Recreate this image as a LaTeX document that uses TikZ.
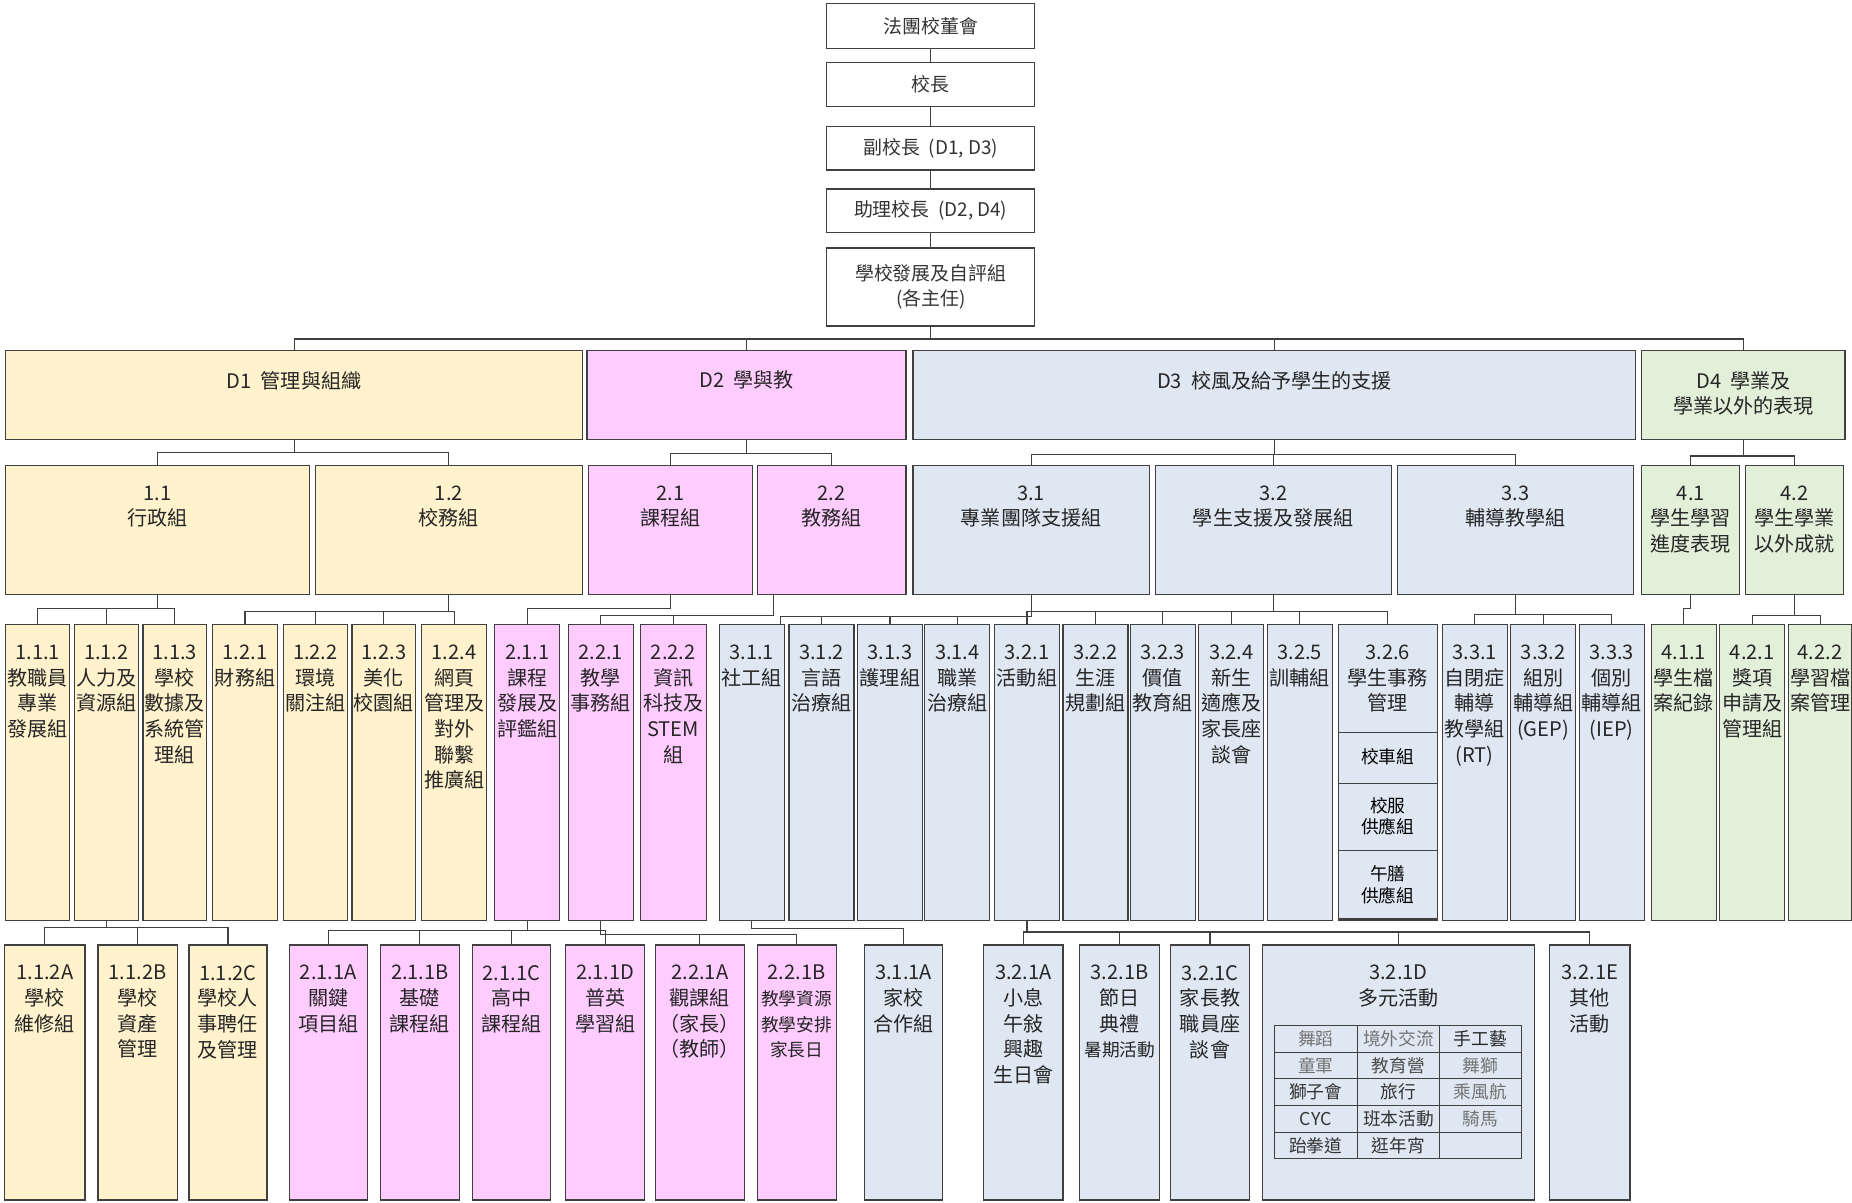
\documentclass[tikz,border=0pt]{standalone}
\usepackage{fontspec}
\setmainfont{Noto Sans CJK TC}
\usepackage{xcolor}
\usepackage{tikz}
\definecolor{dyellow}{HTML}{FFF2CC}
\definecolor{dpink}{HTML}{FFCCFF}
\definecolor{dblue}{HTML}{DEE7F2}
\definecolor{dgreen}{HTML}{E2EFD9}
\newcommand{\smtxt}[1]{{\fontsize{15}{21.7}\selectfont #1}}

\begin{document}
\begin{tikzpicture}[x=1pt, y=-1pt,
    box/.style={draw=black!75, line width=1pt, rectangle, inner sep=0pt, outer sep=0pt, anchor=north west},
    tag/.style={label={[anchor=north, align=center, yshift=-14pt, inner sep=3pt, font=\fontsize{17}{21.7}\selectfont, text=black!85]north:#1}},
    link/.style={draw=black!75, line width=1pt},
    cell/.style={font=\fontsize{15}{18}\selectfont, inner sep=0pt}]
    \useasboundingbox (0,0) rectangle (1568,1018);

    % Top chain
    \foreach \n/\ya/\h/\txt in {board/3/38/法團校董會, head/53/37/校長, vice/107/37/{副校長\ \ (D1, D3)}, asst/160/37/{助理校長\ \ (D2, D4)}, selfeval/210/66/{學校發展及自評組\\(各主任)}} {
        \node[box, minimum width=176pt, minimum height=\h pt, align=center, font=\fontsize{16}{21}\selectfont, text=black!80] (\n) at (700,\ya) {\txt};
    }
    \draw[link] (board) -- (head);
    \draw[link] (head) -- (vice);
    \draw[link] (vice) -- (asst);
    \draw[link] (asst) -- (selfeval);

    % Domains
    \foreach \n/\x/\w/\c/\txt in {d1/5/488/dyellow/{D1\ \ 管理與組織}, d2/497/270/dpink/{D2\ \ 學與教}, d3/773/612/dblue/{D3\ \ 校風及給予學生的支援}, d4/1390/172/dgreen/{D4\ \ 學業及\\學業以外的表現}} {
        \node[box, fill=\c, minimum width=\w pt, minimum height=75pt, tag={\txt}] (\n) at (\x,297) {};
    }
    \coordinate (jtop) at (selfeval.south |- 0,287);
    \foreach \d in {d1,d2,d3,d4} \draw[link] (selfeval.south) -- (jtop) -| (\d.north);

    % Second level
    \foreach \n/\x/\w/\c/\txt in {b11/5/257/dyellow/{1.1\\行政組}, b12/267/226/dyellow/{1.2\\校務組}, b21/498/139/dpink/{2.1\\課程組}, b22/641/126/dpink/{2.2\\教務組}, b31/773/200/dblue/{3.1\\專業團隊支援組}, b32/978/200/dblue/{3.2\\學生支援及發展組}, b33/1183/200/dblue/{3.3\\輔導教學組}, b41/1390/83/dgreen/{4.1\\學生學習\\進度表現}, b42/1478/83/dgreen/{4.2\\學生學業\\以外成就}} {
        \node[box, fill=\c, minimum width=\w pt, minimum height=109pt, tag={\txt}] (\n) at (\x,394) {};
    }
    \coordinate (j1) at (d1.south |- 0,383);
    \coordinate (j2) at (d2.south |- 0,384);
    \coordinate (j3) at (d3.south |- 0,385);
    \coordinate (j4) at (d4.south |- 0,386);
    \foreach \c in {b11,b12} \draw[link] (d1.south) -- (j1) -| (\c.north);
    \foreach \c in {b21,b22} \draw[link] (d2.south) -- (j2) -| (\c.north);
    \foreach \c in {b31,b32,b33} \draw[link] (d3.south) -- (j3) -| (\c.north);
    \foreach \c in {b41,b42} \draw[link] (d4.south) -- (j4) -| (\c.north);

    % Third level
    \foreach \n/\x/\w/\txt in {c111/5/54/{1.1.1\\教職員\\專業\\發展組}, c112/63/54/{1.1.2\\人力及\\資源組}, c113/121/54/{1.1.3\\學校\\數據及\\系統管\\理組}, c121/180/55/{1.2.1\\財務組}, c122/240/54/{1.2.2\\環境\\關注組}, c123/298/54/{1.2.3\\美化\\校園組}, c124/357/55/{1.2.4\\網頁\\管理及\\對外\\聯繫\\推廣組}} {
        \node[box, fill=dyellow, minimum width=\w pt, minimum height=250pt, tag={\txt}] (\n) at (\x,529) {};
    }
    \foreach \n/\x/\w/\txt in {c211/419/55/{2.1.1\\課程\\發展及\\評鑑組}, c221/481/55/{2.2.1\\教學\\事務組}, c222/542/56/{2.2.2\\資訊\\科技及\\STEM\\組}} {
        \node[box, fill=dpink, minimum width=\w pt, minimum height=250pt, tag={\txt}] (\n) at (\x,529) {};
    }
    \foreach \n/\x/\w/\txt in {c311/609/55/{3.1.1\\社工組}, c312/668/55/{3.1.2\\言語\\治療組}, c313/726/55/{3.1.3\\護理組}, c314/783/55/{3.1.4\\職業\\治療組}, c321/842/55/{3.2.1\\活動組}, c322/900/55/{3.2.2\\生涯\\規劃組}, c323/957/55/{3.2.3\\價值\\教育組}, c324/1015/55/{3.2.4\\新生\\適應及\\家長座\\談會}, c325/1073/55/{3.2.5\\訓輔組}, c326/1133/84/{3.2.6\\學生事務\\管理}, c331/1221/55/{3.3.1\\自閉症\\輔導\\教學組\\(RT)}, c332/1279/55/{3.3.2\\組別\\輔導組\\(GEP)}, c333/1337/55/{3.3.3\\個別\\輔導組\\(IEP)}} {
        \node[box, fill=dblue, minimum width=\w pt, minimum height=250pt, tag={\txt}] (\n) at (\x,529) {};
    }
    \foreach \n/\x/\w/\txt in {c411/1398/55/{4.1.1\\學生檔\\案紀錄}, c421/1456/55/{4.2.1\\獎項\\申請及\\管理組}, c422/1514/54/{4.2.2\\學習檔\\案管理}} {
        \node[box, fill=dgreen, minimum width=\w pt, minimum height=250pt, tag={\txt}] (\n) at (\x,529) {};
    }
    % 3.2.6 sub groups
    \foreach \y in {620,663,720,778} \draw[link] (c326.west |- 0,\y) -- (c326.east |- 0,\y);
    \node[cell] (c326a) at (c326.north |- 0,641) {校車組};
    \node[cell, align=center] (c326b) at (c326.north |- 0,691) {校服\\供應組};
    \node[cell, align=center] (c326c) at (c326.north |- 0,749) {午膳\\供應組};

    \coordinate (j11) at (b11.south |- 0,515);
    \coordinate (j12) at (b12.south |- 0,518);
    \coordinate (j21) at (b21.south |- 0,515);
    \coordinate (j22) at (655,521);
    \coordinate (j31) at (b31.south |- 0,522);
    \coordinate (j32) at (b32.south |- 0,518);
    \coordinate (j33) at (b33.south |- 0,520);
    \coordinate (j41) at (b41.south |- 0,515);
    \coordinate (j42) at (b42.south |- 0,521);
    \foreach \c in {c111,c112,c113} \draw[link] (b11.south) -- (j11) -| (\c.north);
    \foreach \c in {c121,c122,c123,c124} \draw[link] (b12.south) -- (j12) -| (\c.north);
    \draw[link] (b21.south) -- (j21) -| (c211.north);
    \foreach \c in {c221,c222} \draw[link] (j22 |- b22.south) -- (j22) -| (\c.north);
    \draw[link] (b31.south) -- (j31) -| ([xshift=-3pt]c311.north east);
    \foreach \c in {c312,c313,c314} \draw[link] (b31.south) -- (j31) -| (\c.north);
    \foreach \c in {c321,c322,c323,c324,c325,c326} \draw[link] (b32.south) -- (j32) -| (\c.north);
    \foreach \c in {c331,c332,c333} \draw[link] (b33.south) -- (j33) -| (\c.north);
    \draw[link] (b41.south) -- (j41) -| (c411.north);
    \foreach \c in {c421,c422} \draw[link] (b42.south) -- (j42) -| (\c.north);

    % Fourth level
    \foreach \n/\x/\w/\c/\txt in {e112a/4/68/dyellow/{1.1.2A\\學校\\維修組}, e112b/83/67/dyellow/{1.1.2B\\學校\\資產\\管理}, e112c/160/66/dyellow/{1.1.2C\\學校人\\事聘任\\及管理}, e211a/245/66/dpink/{2.1.1A\\關鍵\\項目組}, e211b/322/67/dpink/{2.1.1B\\基礎\\課程組}, e211c/400/66/dpink/{2.1.1C\\高中\\課程組}, e211d/479/67/dpink/{2.1.1D\\普英\\學習組}, e221a/555/75/dpink/{2.2.1A\\觀課組\\（家長）\\（教師）}, e221b/641/67/dpink/{2.2.1B\\\smtxt{教學資源}\\\smtxt{教學安排}\\\smtxt{家長日}}, e311a/732/66/dblue/{3.1.1A\\家校\\合作組}, e321a/833/67/dblue/{3.2.1A\\小息\\午敍\\興趣\\生日會}, e321b/914/68/dblue/{3.2.1B\\節日\\典禮\\\smtxt{暑期活動}}, e321c/991/67/dblue/{3.2.1C\\家長教\\職員座\\談會}, e321d/1069/230/dblue/{3.2.1D\\多元活動}, e321e/1312/68/dblue/{3.2.1E\\其他\\活動}} {
        \node[box, fill=\c, minimum width=\w pt, minimum height=216pt, tag={\txt}] (\n) at (\x,800) {};
    }
    \coordinate (j112) at (c112.south |- 0,785);
    \coordinate (j211) at (c211.south |- 0,788);
    \coordinate (j221) at (c221.south |- 0,791);
    \coordinate (j311) at (c311.south |- 0,786);
    \coordinate (j321) at (c321.south |- 0,789);
    \foreach \c in {e112a,e112b,e112c} \draw[link] (c112.south) -- (j112) -| (\c.north);
    \foreach \c in {e211a,e211b,e211c,e211d} \draw[link] (c211.south) -- (j211) -| (\c.north);
    \foreach \c in {e221a,e221b} \draw[link] (c221.south) -- (j221) -| (\c.north);
    \draw[link] (c311.south) -- (j311) -| (e311a.north);
    \foreach \c in {e321a,e321b,e321c,e321d,e321e} \draw[link] (c321.south) -- (j321) -| (\c.north);

    % Activity table in 3.2.1D
    \foreach \x in {1079,1149,1219,1288} \draw[link] (\x,868) -- (\x,981);
    \foreach \y in {868,891,913,936,959,981} \draw[link] (1079,\y) -- (1288,\y);
    \foreach \k/\x/\y/\txt/\tc in {a1/1114/879.5/舞蹈/black!55, a2/1184/879.5/境外交流/black!55, a3/1253.5/879.5/手工藝/black!85,
        b1/1114/902/童軍/black!55, b2/1184/902/教育營/black!70, b3/1253.5/902/舞獅/black!55,
        c1/1114/924.5/獅子會/black!80, c2/1184/924.5/旅行/black!80, c3/1253.5/924.5/乘風航/black!55,
        d1/1114/947.5/CYC/black!80, d2/1184/947.5/班本活動/black!80, d3/1253.5/947.5/騎馬/black!55,
        e1/1114/970/跆拳道/black!80, e2/1184/970/逛年宵/black!80} {
        \node[cell, text=\tc] (act\k) at (\x,\y) {\txt};
    }
\end{tikzpicture}
\end{document}
